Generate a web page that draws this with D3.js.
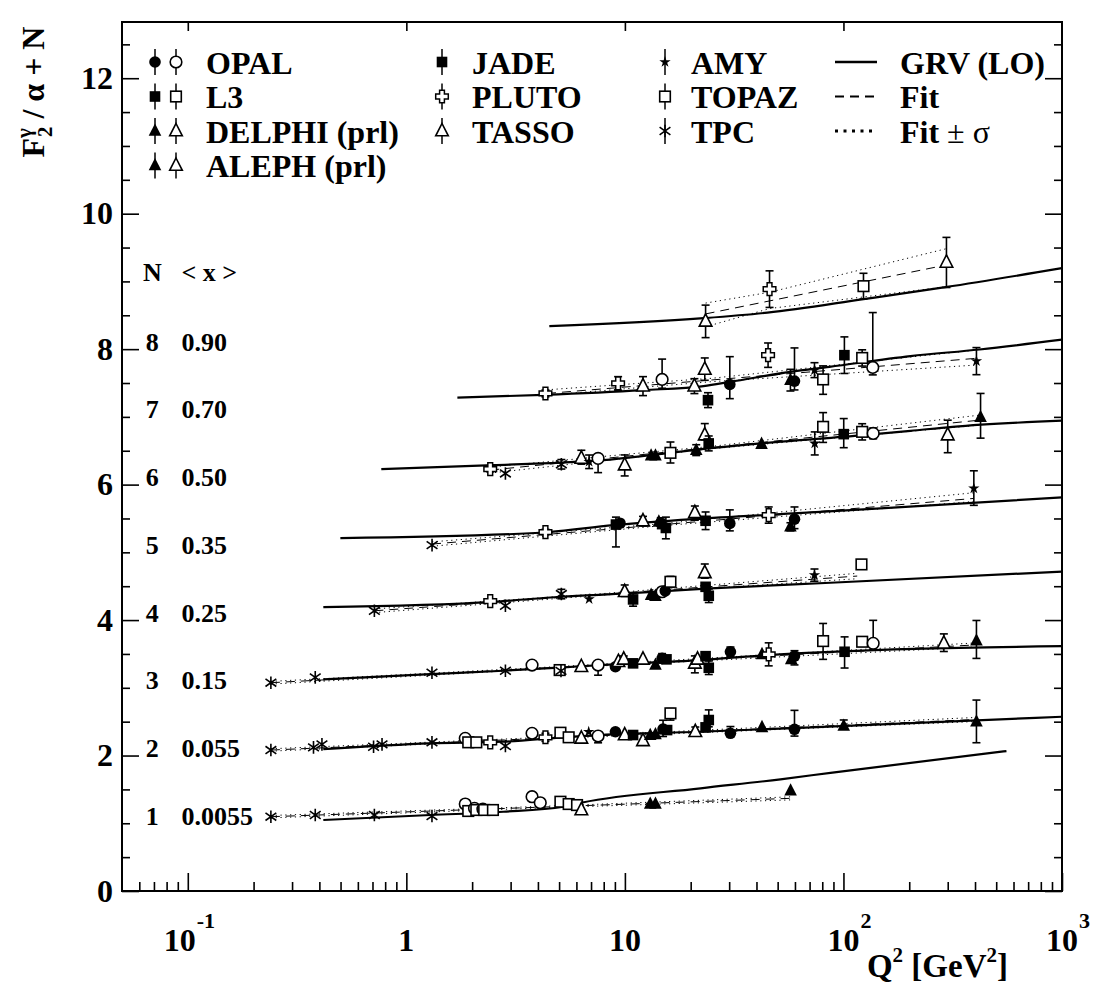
<!DOCTYPE html>
<html>
<head>
<meta charset="utf-8">
<script src="https://cdn.jsdelivr.net/npm/d3@7"></script>
<style>
  body { margin: 0; background: #fff; }
  svg { display: block; }
  text { font-family: "Liberation Serif", "Times New Roman", serif; font-weight: bold; fill: #000; }
</style>
</head>
<body>
<svg id="chart" width="1095" height="988"></svg>
<script>
// F2/alpha per x-bin; each bin is shifted up by N on the plot.
// Point rows: [symbol, Q2, F2/alpha, errDown, errUp]
const binN = [1, 2, 3, 4, 5, 6, 7, 8];
const binMeanX = ['0.0055', '0.055', '0.15', '0.25', '0.35', '0.50', '0.70', '0.90'];

const data1 = [
  ['ast', 0.24, 0.097, 0, 0], ['ast', 0.383, 0.122, 0, 0], ['ast', 0.714, 0.122, 0, 0],
  ['ast', 1.31, 0.107, 0, 0], ['circO', 1.86, 0.284, 0, 0.06], ['sqO', 1.92, 0.181, 0, 0],
  ['circO', 2.05, 0.221, 0, 0], ['sqO', 2.09, 0.196, 0, 0], ['circO', 2.24, 0.21, 0, 0.06],
  ['sqO', 2.27, 0.196, 0, 0], ['sqO', 2.49, 0.196, 0, 0], ['circO', 3.76, 0.392, 0, 0.06],
  ['circO', 4.1, 0.303, 0, 0], ['sqO', 5.07, 0.318, 0.07, 0.07], ['sqO', 5.53, 0.284, 0, 0],
  ['sqO', 6.04, 0.269, 0, 0], ['triO', 6.32, 0.196, 0, 0], ['triF', 13.06, 0.284, 0, 0],
  ['triF', 13.8, 0.284, 0, 0], ['triF', 57.3, 0.48, 0, 0]
];
const data2 = [
  ['ast', 0.24, 0.081, 0, 0], ['ast', 0.376, 0.121, 0, 0], ['ast', 0.411, 0.165, 0, 0],
  ['ast', 0.708, 0.13, 0, 0], ['ast', 0.774, 0.165, 0, 0], ['ast', 1.31, 0.195, 0, 0],
  ['circO', 1.86, 0.254, 0, 0], ['sqO', 1.92, 0.195, 0, 0], ['sqO', 2.09, 0.195, 0, 0],
  ['cross', 2.42, 0.195, 0, 0], ['ast', 2.84, 0.14, 0, 0], ['circO', 3.76, 0.328, 0, 0.06],
  ['cross', 4.33, 0.269, 0.06, 0.06], ['sqO', 5.07, 0.337, 0, 0.05], ['sqO', 5.53, 0.269, 0, 0],
  ['triO', 6.32, 0.254, 0, 0], ['star', 6.83, 0.351, 0, 0], ['circO', 7.54, 0.288, 0.1, 0],
  ['circF', 9.05, 0.351, 0.04, 0.04], ['triO', 9.98, 0.303, 0, 0], ['sqF', 10.9, 0.303, 0, 0],
  ['triO', 12.1, 0.217, 0, 0], ['triF', 13.06, 0.30, 0, 0], ['triF', 13.8, 0.31, 0, 0],
  ['circF', 14.95, 0.391, 0.11, 0.13], ['sqF', 15.6, 0.376, 0, 0], ['sqO', 16.16, 0.623, 0.1, 0.07],
  ['triO', 21, 0.351, 0, 0.07], ['sqF', 23.4, 0.416, 0, 0], ['sqF', 24.2, 0.524, 0.1, 0.15],
  ['circF', 30.4, 0.328, 0, 0.1], ['triF', 42.4, 0.416, 0, 0], ['circF', 59.7, 0.387, 0.1, 0.28],
  ['triF', 100.3, 0.435, 0, 0.09], ['triF', 406, 0.499, 0.31, 0.32]
];
const data3 = [
  ['ast', 0.24, 0.075, 0, 0], ['ast', 0.383, 0.154, 0, 0], ['ast', 1.31, 0.222, 0, 0],
  ['ast', 2.84, 0.252, 0, 0], ['circO', 3.76, 0.336, 0, 0.06], ['sqO', 5.03, 0.262, 0, 0.06],
  ['ast', 5.1, 0.25, 0, 0], ['triO', 6.32, 0.311, 0, 0], ['circO', 7.54, 0.336, 0.15, 0.06],
  ['circF', 9.05, 0.311, 0.04, 0.04], ['triO', 9.34, 0.385, 0, 0], ['triO', 9.88, 0.42, 0.05, 0.05],
  ['sqF', 10.9, 0.361, 0, 0], ['triO', 12.1, 0.42, 0, 0], ['triF', 13.8, 0.336, 0, 0],
  ['circF', 14.8, 0.435, 0.07, 0.07], ['sqF', 15.5, 0.42, 0, 0], ['triO', 20.9, 0.361, 0.14, 0.11],
  ['triO', 21.5, 0.42, 0, 0], ['sqF', 23.4, 0.467, 0, 0], ['sqF', 24.2, 0.296, 0.1, 0.1],
  ['circF', 30.4, 0.532, 0.07, 0.07], ['triF', 42.4, 0.494, 0, 0], ['cross', 45.5, 0.494, 0.17, 0.17],
  ['triF', 57.7, 0.42, 0, 0], ['circF', 59.7, 0.468, 0.13, 0.08], ['sqO', 80.7, 0.69, 0.27, 0.26],
  ['sqF', 101.2, 0.532, 0.24, 0.22], ['sqO', 121.8, 0.68, 0.06, 0.06], ['circO', 136.8, 0.656, 0.09, 0.34],
  ['triO', 288, 0.656, 0.12, 0.14], ['triF', 406, 0.694, 0.26, 0.3]
];
const data4 = [
  ['ast', 0.714, 0.137, 0, 0], ['cross', 2.42, 0.28, 0, 0], ['ast', 2.84, 0.211, 0, 0],
  ['ast', 5.12, 0.384, 0.07, 0.07], ['star', 6.86, 0.31, 0, 0], ['triO', 9.98, 0.418, 0.07, 0.1],
  ['sqF', 10.9, 0.305, 0.1, 0.1], ['triF', 13.18, 0.369, 0, 0], ['triF', 13.8, 0.354, 0, 0],
  ['circO', 14.8, 0.418, 0, 0], ['circF', 15.3, 0.432, 0, 0], ['sqO', 16.16, 0.565, 0.08, 0.08],
  ['triO', 23.2, 0.698, 0.08, 0.13], ['sqF', 23.4, 0.491, 0, 0], ['sqF', 24.2, 0.359, 0.1, 0.1],
  ['star', 73.7, 0.664, 0.09, 0.09], ['sqO', 120.9, 0.822, 0.06, 0.06]
];
const data5 = [
  ['ast', 1.311, 0.107, 0, 0], ['cross', 4.33, 0.299, 0.04, 0.04], ['sqF', 9.1, 0.41, 0.33, 0.11],
  ['circF', 9.5, 0.43, 0, 0], ['triO', 12.1, 0.461, 0.07, 0.07], ['triF', 14.3, 0.45, 0, 0],
  ['circF', 14.6, 0.43, 0.08, 0.08], ['sqF', 15.4, 0.36, 0.16, 0.16], ['triO', 20.9, 0.584, 0.11, 0.1],
  ['sqF', 23.4, 0.466, 0.13, 0.13], ['circF', 30.2, 0.427, 0.11, 0.2], ['cross', 45.5, 0.55, 0.12, 0.12],
  ['triF', 57.2, 0.377, 0.06, 0.06], ['circF', 59.7, 0.49, 0.14, 0.18], ['star', 395, 0.944, 0.25, 0.26]
];
const data6 = [
  ['cross', 2.42, 0.229, 0.04, 0.04], ['ast', 2.84, 0.165, 0, 0], ['ast', 5.12, 0.30, 0.07, 0.07],
  ['triO', 6.32, 0.387, 0.085, 0.12], ['star', 6.86, 0.337, 0.1, 0.1], ['circO', 7.54, 0.387, 0.21, 0.06],
  ['triO', 9.98, 0.288, 0.16, 0.15], ['triF', 13.18, 0.425, 0, 0], ['triF', 13.8, 0.425, 0, 0],
  ['sqO', 16.16, 0.469, 0.15, 0.16], ['triF', 21.2, 0.509, 0.08, 0.08], ['triO', 23.2, 0.731, 0.07, 0.17],
  ['sqF', 24.18, 0.608, 0.11, 0.11], ['triF', 42.2, 0.598, 0, 0], ['star', 73.9, 0.608, 0.17, 0.17],
  ['sqO', 80.7, 0.853, 0.23, 0.21], ['sqF', 100.3, 0.745, 0.2, 0.23], ['sqO', 121.8, 0.779, 0.12, 0.12],
  ['circO', 136.8, 0.756, 0.08, 0.08], ['triO', 300, 0.731, 0.26, 0.22], ['triF', 424, 0.996, 0.31, 0.35]
];
const data7 = [
  ['cross', 4.33, 0.346, 0.05, 0.05], ['cross', 9.31, 0.494, 0.1, 0.1], ['triO', 12.1, 0.454, 0.14, 0.14],
  ['circO', 14.8, 0.553, 0.13, 0.3], ['triO', 20.8, 0.454, 0.11, 0.11], ['triO', 23.2, 0.70, 0.16, 0.17],
  ['sqF', 24.0, 0.247, 0.11, 0.11], ['circF', 30.2, 0.479, 0.21, 0.41], ['cross', 45.2, 0.911, 0.18, 0.18],
  ['triF', 57.2, 0.542, 0.16, 0.16], ['circF', 59.7, 0.528, 0.13, 0.49], ['star', 73.7, 0.69, 0.11, 0.11],
  ['sqO', 80.7, 0.553, 0.22, 0.2], ['sqF', 101, 0.911, 0.27, 0.27], ['sqO', 121.8, 0.87, 0.12, 0.12],
  ['circO', 136.2, 0.73, 0.11, 0.81], ['star', 406, 0.823, 0.2, 0.2]
];
const data8 = [
  ['triO', 23.4, 0.41, 0.24, 0.24], ['cross', 45.9, 0.886, 0.27, 0.27],
  ['sqO', 123.5, 0.93, 0.19, 0.19], ['triO', 296, 1.28, 0.37, 0.37]
];

// GRV (LO) prediction per bin: [Q2, F2/alpha]
const grv1 = [[0.417, 0.048], [1.29, 0.122], [2.78, 0.170], [5.23, 0.244], [6.39, 0.306], [22.2, 0.516], [51.5, 0.649], [89.1, 0.749], [557, 1.066]];
const grv2 = [[0.417, 0.096], [1.29, 0.18], [2.78, 0.204], [5.23, 0.269], [7.73, 0.303], [22.2, 0.351], [59, 0.406], [1000, 0.573]];
const grv3 = [[0.417, 0.125], [1.29, 0.203], [2.78, 0.252], [5.23, 0.302], [7.73, 0.336], [22.2, 0.41], [44.9, 0.483], [1000, 0.616]];
const grv4 = [[0.417, 0.192], [2.5, 0.27], [5.07, 0.344], [10.27, 0.394], [24.6, 0.468], [87.2, 0.551], [1000, 0.716]];
const grv5 = [[0.499, 0.21], [4.1, 0.289], [8.86, 0.402], [20.58, 0.491], [59, 0.575], [147.6, 0.649], [1000, 0.811]];
const grv6 = [[0.768, 0.229], [2.5, 0.288], [5.07, 0.325], [7.97, 0.362], [13.09, 0.435], [20.58, 0.509], [41.7, 0.608], [123.5, 0.731], [202.6, 0.794], [315.4, 0.853], [1000, 0.945]];
const grv7 = [[1.712, 0.284], [4.236, 0.325], [12.15, 0.395], [22.9, 0.454], [30.4, 0.517], [57.2, 0.665], [86.3, 0.739], [202.6, 0.897], [419.2, 0.995], [1000, 1.14]];
const grv8 = [[4.51, 0.34], [22.9, 0.457], [44.9, 0.539], [123.5, 0.738], [293, 0.915], [1000, 1.196]];

// Fit in ln Q2: central line [Q2, F2/alpha] and +-1 sigma band [Q2, low, high]
const fit1 = [[0.24, 0.097], [57, 0.368]];
const fit2 = [[0.24, 0.081], [390, 0.53]];
const fit3 = [[0.24, 0.075], [390, 0.631]];
const fit4 = [[0.714, 0.137], [115.6, 0.65]];
const fit5 = [[1.311, 0.122], [395, 0.796]];
const fit6 = [[2.42, 0.214], [420, 0.952]];
const fit7 = [[4.4, 0.346], [400, 0.863]];
const fit8 = [[23.4, 0.52], [293, 1.24]];
const band1 = [[0.24, 0.08, 0.115], [4, 0.225, 0.247], [57, 0.345, 0.39]];
const band2 = [[0.24, 0.065, 0.10], [5, 0.255, 0.277], [390, 0.50, 0.56]];
const band3 = [[0.24, 0.055, 0.095], [5, 0.292, 0.314], [390, 0.60, 0.66]];
const band4 = [[0.714, 0.11, 0.165], [8, 0.37, 0.392], [115.6, 0.61, 0.69]];
const band5 = [[1.311, 0.09, 0.155], [15, 0.395, 0.425], [395, 0.75, 0.88]];
const band6 = [[2.42, 0.17, 0.26], [25, 0.53, 0.565], [420, 0.878, 1.026]];
const band7 = [[4.4, 0.32, 0.40], [25, 0.52, 0.57], [400, 0.764, 0.985]];
const band8 = [[23.4, 0.33, 0.68], [46, 0.60, 0.84], [293, 0.92, 1.48]];

const xTicks = [0.1, 1, 10, 100, 1000];
const xTickBase = ['10', '1', '10', '10', '10'];
const xTickExp = ['-1', '', '', '2', '3'];
const yTicks = [0, 2, 4, 6, 8, 10, 12];

const allData = [data1, data2, data3, data4, data5, data6, data7, data8];
const allGrv = [grv1, grv2, grv3, grv4, grv5, grv6, grv7, grv8];
const allFit = [fit1, fit2, fit3, fit4, fit5, fit6, fit7, fit8];
const allBand = [band1, band2, band3, band4, band5, band6, band7, band8];

const svg = d3.select('#chart');
const frameL = 122, frameR = 1062, frameT = 22, frameB = 891;
const x = d3.scaleLog().domain([0.05, 1000]).range([frameL, frameR]);
const y = d3.scaleLinear().domain([0, 12.83]).range([frameB, frameT]);

svg.append('defs').append('clipPath').attr('id', 'plotArea')
  .append('rect').attr('x', frameL).attr('y', frameT).attr('width', frameR - frameL).attr('height', frameB - frameT);
const plot = svg.append('g').attr('clip-path', 'url(#plotArea)');

// symbol painter shared by the plot and the legend
function marker(g, type, cx, cy) {
  const s = g.append('g').attr('transform', `translate(${cx},${cy})`);
  const sw = 1.6;
  switch (type) {
    case 'circF': s.append('circle').attr('r', 5.8).attr('fill', '#000'); break;
    case 'circO': s.append('circle').attr('r', 5.8).attr('fill', '#fff').attr('stroke', '#000').attr('stroke-width', sw); break;
    case 'sqF': s.append('rect').attr('x', -5.3).attr('y', -5.3).attr('width', 10.6).attr('height', 10.6).attr('fill', '#000'); break;
    case 'sqO': s.append('rect').attr('x', -5.3).attr('y', -5.3).attr('width', 10.6).attr('height', 10.6).attr('fill', '#fff').attr('stroke', '#000').attr('stroke-width', sw); break;
    case 'triF': s.append('path').attr('d', 'M0,-7.5L6.3,4.8L-6.3,4.8Z').attr('fill', '#000'); break;
    case 'triO': s.append('path').attr('d', 'M0,-7.5L6.3,4.8L-6.3,4.8Z').attr('fill', '#fff').attr('stroke', '#000').attr('stroke-width', sw); break;
    case 'cross': s.append('path').attr('d', 'M-2.4,-6.3h4.8v3.9h3.9v4.8h-3.9v3.9h-4.8v-3.9h-3.9v-4.8h3.9Z')
      .attr('fill', '#fff').attr('stroke', '#000').attr('stroke-width', 1.5); break;
    case 'star': s.append('path').attr('d', d3.symbol(d3.symbolStar, 40)()).attr('fill', '#000'); break;
    case 'ast': s.append('path').attr('d', 'M0,-6.3V6.3M-5.4,-3.8L5.4,3.8M-5.4,3.8L5.4,-3.8')
      .attr('stroke', '#000').attr('stroke-width', 1.6).attr('fill', 'none'); break;
  }
}

const dotted = '1.2,3.6';
const dashed = '9,6';

binN.forEach((N, i) => {
  const band = allBand[i];
  const lo = d3.line().x(d => x(d[0])).y(d => y(d[1] + N));
  const hi = d3.line().x(d => x(d[0])).y(d => y(d[2] + N));
  plot.append('path').attr('d', lo(band)).attr('fill', 'none').attr('stroke', '#000')
    .attr('stroke-width', 1).attr('stroke-dasharray', dotted);
  plot.append('path').attr('d', hi(band)).attr('fill', 'none').attr('stroke', '#000')
    .attr('stroke-width', 1).attr('stroke-dasharray', dotted);
  const fl = d3.line().x(d => x(d[0])).y(d => y(d[1] + N));
  plot.append('path').attr('d', fl(allFit[i])).attr('fill', 'none').attr('stroke', '#000')
    .attr('stroke-width', 1).attr('stroke-dasharray', dashed);
  const gl = d3.line().x(d => x(d[0])).y(d => y(d[1] + N)).curve(d3.curveMonotoneX);
  plot.append('path').attr('d', gl(allGrv[i])).attr('fill', 'none').attr('stroke', '#000').attr('stroke-width', 2.2);
});

binN.forEach((N, i) => {
  const g = plot.append('g');
  allData[i].forEach(([sym, q2, f, eLo, eHi]) => {
    const cx = x(q2), cy = y(f + N);
    if (eLo > 0 || eHi > 0) {
      const y0 = y(f + N - eLo), y1 = y(f + N + eHi);
      g.append('line').attr('x1', cx).attr('x2', cx).attr('y1', y0).attr('y2', y1)
        .attr('stroke', '#000').attr('stroke-width', 1.6);
      if (eLo > 0) g.append('line').attr('x1', cx - 4).attr('x2', cx + 4).attr('y1', y0).attr('y2', y0).attr('stroke', '#000').attr('stroke-width', 1.6);
      if (eHi > 0) g.append('line').attr('x1', cx - 4).attr('x2', cx + 4).attr('y1', y1).attr('y2', y1).attr('stroke', '#000').attr('stroke-width', 1.6);
    }
    marker(g, sym, cx, cy);
  });
});

// bin labels: N and mean x
const labels = svg.append('g');
labels.append('text').attr('x', x(0.0688)).attr('y', y(9.14) + 9).attr('text-anchor', 'middle')
  .attr('font-size', 26).text('N');
labels.append('text').attr('x', x(0.0935)).attr('y', y(9.14) + 9).attr('font-size', 26).text('< x >');
binN.forEach((N, i) => {
  labels.append('text').attr('x', x(0.0688)).attr('y', y(N + 0.11) + 9).attr('text-anchor', 'middle')
    .attr('font-size', 26).text(N);
  labels.append('text').attr('x', x(0.0935)).attr('y', y(N + 0.11) + 9).attr('font-size', 26).text(binMeanX[i]);
});

// axes: ticks point into the frame
const tickStyle = g => {
  g.select('.domain').remove();
  g.selectAll('line').attr('stroke', '#000').attr('stroke-width', 1.6);
};
const minorX = [];
[0.01, 0.1, 1, 10, 100].forEach(dec => { for (let k = 2; k <= 9; k++) { const v = k * dec; if (v > 0.05 && v < 1000) minorX.push(v); } });
const minorY = d3.range(0, 12.81, 0.5).filter(v => v % 2 !== 0);

svg.append('g').attr('transform', `translate(0,${frameB})`)
  .call(d3.axisBottom(x).tickValues(xTicks).tickSize(-18).tickFormat('')).call(tickStyle);
svg.append('g').attr('transform', `translate(0,${frameB})`)
  .call(d3.axisBottom(x).tickValues(minorX).tickSize(-9).tickFormat('')).call(tickStyle);
svg.append('g').attr('transform', `translate(0,${frameT})`)
  .call(d3.axisTop(x).tickValues(xTicks.slice(0, 4)).tickSize(-9).tickFormat('')).call(tickStyle);

const yAxis = svg.append('g').attr('transform', `translate(${frameL},0)`)
  .call(d3.axisLeft(y).tickValues(yTicks).tickSize(-17).tickPadding(9).tickFormat(d3.format('d'))).call(tickStyle);
yAxis.selectAll('text').attr('font-size', 32);
svg.append('g').attr('transform', `translate(${frameL},0)`)
  .call(d3.axisLeft(y).tickValues(minorY).tickSize(-8).tickFormat('')).call(tickStyle);
svg.append('g').attr('transform', `translate(${frameR},0)`)
  .call(d3.axisRight(y).tickValues(yTicks).tickSize(-17).tickFormat('')).call(tickStyle);
svg.append('g').attr('transform', `translate(${frameR},0)`)
  .call(d3.axisRight(y).tickValues(minorY).tickSize(-8).tickFormat('')).call(tickStyle);

svg.append('rect').attr('x', frameL).attr('y', frameT).attr('width', frameR - frameL).attr('height', frameB - frameT)
  .attr('fill', 'none').attr('stroke', '#000').attr('stroke-width', 2);

// x tick labels with powers of ten
xTicks.forEach((v, i) => {
  const shift = xTickExp[i] === '-1' ? -8 : 0;
  const base = svg.append('text').attr('x', x(v) + shift).attr('y', 951).attr('text-anchor', 'middle')
    .attr('font-size', 32).text(xTickBase[i]);
  if (xTickExp[i]) {
    const w = base.node().getComputedTextLength();
    svg.append('text').attr('x', x(v) + shift + w / 2 + 1).attr('y', 928).attr('font-size', 22).text(xTickExp[i]);
  }
});

// axis titles
const xt = svg.append('text').attr('x', 1008).attr('y', 977).attr('text-anchor', 'end').attr('font-size', 33);
xt.append('tspan').text('Q');
xt.append('tspan').attr('dy', -15).attr('font-size', 21).text('2');
xt.append('tspan').attr('dy', 15).text(' [GeV');
xt.append('tspan').attr('dy', -15).attr('font-size', 21).text('2');
xt.append('tspan').attr('dy', 15).text(']');

const yt = svg.append('text').attr('transform', 'translate(44,92) rotate(-90)').attr('text-anchor', 'middle').attr('font-size', 32);
yt.append('tspan').text('F');
yt.append('tspan').attr('dy', -13).attr('font-size', 21).text('γ');
yt.append('tspan').attr('dx', -9).attr('dy', 21).attr('font-size', 21).text('2');
yt.append('tspan').attr('dy', -8).text(' / α + N');

// legend
const legend = svg.append('g');
const rowY = [62, 96.5, 131, 165.5];
const legendFont = 32;
const legendCols = [
  { mx: [155, 176], tx: 206, items: [[['circF', 'circO'], 'OPAL'], [['sqF', 'sqO'], 'L3'], [['triF', 'triO'], 'DELPHI (prl)'], [['triF', 'triO'], 'ALEPH (prl)']] },
  { mx: [442], tx: 472, items: [[['sqF'], 'JADE'], [['cross'], 'PLUTO'], [['triO'], 'TASSO']] },
  { mx: [665], tx: 691, items: [[['star'], 'AMY'], [['sqO'], 'TOPAZ'], [['ast'], 'TPC']] }
];
legendCols.forEach(col => {
  col.items.forEach(([syms, name], r) => {
    const cy = rowY[r];
    syms.forEach((s, k) => {
      const mx = col.mx[k];
      legend.append('line').attr('x1', mx).attr('x2', mx).attr('y1', cy - 13).attr('y2', cy + 13)
        .attr('stroke', '#000').attr('stroke-width', 1.5);
      marker(legend, s, mx, cy);
    });
    legend.append('text').attr('x', col.tx).attr('y', cy + 11.5).attr('font-size', legendFont).text(name);
  });
});
const lineItems = [['GRV (LO)', null, 2.5], ['Fit', '9,6', 2], ['Fit', '3,5.5', 3]];
lineItems.forEach(([name, dash, w], r) => {
  const cy = rowY[r];
  const ln = legend.append('line').attr('x1', 835).attr('x2', 877).attr('y1', cy).attr('y2', cy)
    .attr('stroke', '#000').attr('stroke-width', w);
  if (dash) ln.attr('stroke-dasharray', dash);
  const t = legend.append('text').attr('x', 900).attr('y', cy + 11.5).attr('font-size', legendFont).text(name);
  if (r === 2) {
    t.append('tspan').attr('font-weight', 'normal').text(' ± σ');
  }
});
</script>
</body>
</html>
